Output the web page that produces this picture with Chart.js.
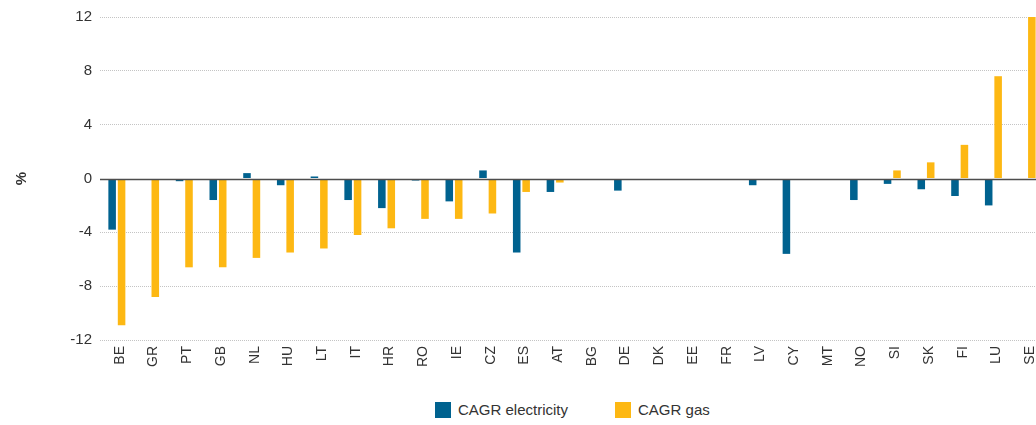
<!DOCTYPE html>
<html>
<head>
<meta charset="utf-8">
<script src="https://cdn.jsdelivr.net/npm/chart.js@4.4.1/dist/chart.umd.min.js"></script>
<style>
  html, body { margin: 0; padding: 0; background: #fff; overflow: hidden; }
  body { width: 1036px; height: 425px; position: relative; font-family: "Liberation Sans", Arial, sans-serif; }
  #wrap { position: absolute; left: 0; top: 0; width: 1050px; height: 372px; }
  #legend { position: absolute; top: 401px; left: 435px; display: flex; font-size: 15px; color: #333; }
  .item { display: flex; align-items: center; margin-right: 47px; }
  .sw { width: 16px; height: 16px; margin-right: 7px; }
</style>
</head>
<body>
<div id="wrap"><canvas id="chart"></canvas></div>
<div id="legend"></div>
<script>
const countries = ["BE","GR","PT","GB","NL","HU","LT","IT","HR","RO","IE","CZ","ES","AT",
                   "BG","DE","DK","EE","FR","LV","CY","MT","NO","SI","SK","FI","LU","SE"];
const cagrElectricity = [-3.8, 0, -0.2, -1.6, 0.4, -0.5, 0.15, -1.6, -2.2, -0.15, -1.7, 0.6, -5.5, -1.0,
                         0, -0.9, 0, 0, 0, -0.5, -5.6, 0, -1.6, -0.4, -0.8, -1.3, -2.0, 0];
const cagrGas = [-10.9, -8.8, -6.6, -6.6, -5.9, -5.5, -5.2, -4.2, -3.7, -3.0, -3.0, -2.6, -1.0, -0.3,
                 0, 0, 0, 0, 0, 0, 0, 0, 0, 0.6, 1.2, 2.5, 7.6, 12.0];
const yTicks = [-12, -8, -4, 0, 4, 8, 12];

const blue = "#00628f";
const yellow = "#fdb813";

const legendEl = document.getElementById("legend");
[["CAGR electricity", blue], ["CAGR gas", yellow]].forEach(([label, color]) => {
    const it = document.createElement("div");
    it.className = "item";
    it.innerHTML = `<span class="sw" style="background:${color}"></span><span>${label}</span>`;
    legendEl.appendChild(it);
});

// solid line at 0, drawn over the bars
const zeroLine = {
    id: "zeroLine",
    afterDatasetsDraw(chart) {
        const { ctx, chartArea, scales } = chart;
        const y = Math.round(scales.y.getPixelForValue(0)) + 0.5;
        ctx.save();
        ctx.strokeStyle = "#4d4d4d";
        ctx.lineWidth = 1.5;
        ctx.beginPath();
        ctx.moveTo(chartArea.left, y);
        ctx.lineTo(chartArea.right, y);
        ctx.stroke();
        ctx.restore();
    }
};

new Chart(document.getElementById("chart"), {
    type: "bar",
    data: {
        labels: countries,
        datasets: [
            { label: "CAGR electricity", data: cagrElectricity, backgroundColor: blue },
            { label: "CAGR gas", data: cagrGas, backgroundColor: yellow },
        ],
    },
    plugins: [zeroLine],
    options: {
        responsive: true,
        maintainAspectRatio: false,
        animation: false,
        datasets: { bar: { categoryPercentage: 0.56, barPercentage: 0.8 } },
        layout: { padding: { top: 17, left: 3, right: 4, bottom: 0 } },
        plugins: { legend: { display: false }, tooltip: { enabled: false } },
        scales: {
            x: {
                grid: { display: false, drawTicks: false },
                border: { display: false },
                ticks: {
                    color: "#333",
                    font: { family: "'Liberation Sans', Arial", size: 14 },
                    minRotation: 90, maxRotation: 90,
                    padding: 6, autoSkip: false, labelOffset: 3,
                },
                afterFit(scale) { scale.height = 32; },
            },
            y: {
                min: -12, max: 12,
                afterBuildTicks(scale) { scale.ticks = yTicks.map(v => ({ value: v })); },
                grid: {
                    color: ctx => ctx.tick && ctx.tick.value === 0 ? "rgba(0,0,0,0)" : "#c4c4c4",
                    lineWidth: 1, drawTicks: false,
                },
                border: { display: false, dash: [1, 1] },
                ticks: {
                    color: "#333",
                    font: { family: "'Liberation Sans', Arial", size: 15 },
                    padding: 8,
                },
                title: {
                    display: true, text: "%", color: "#333",
                    font: { family: "'Liberation Sans', Arial", size: 15, weight: "bold" },
                    padding: { top: 10, bottom: 0 },
                },
                afterFit(scale) { scale.width = 97; },
            },
        },
    },
});
</script>
</body>
</html>
